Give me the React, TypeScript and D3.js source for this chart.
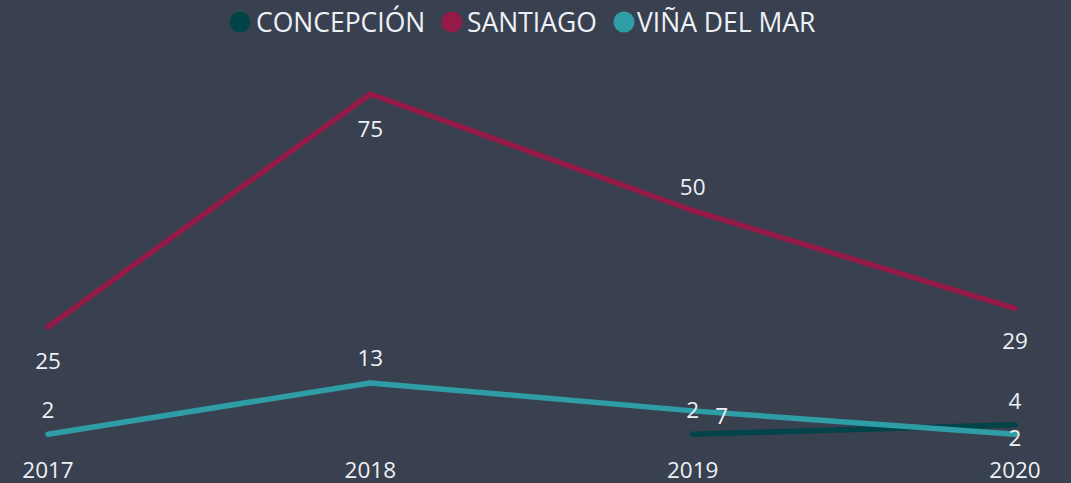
import React from "react";
import * as d3 from "d3";

const years = ["2017", "2018", "2019", "2020"];
const seriesNames = ["CONCEPCIÓN", "SANTIAGO", "VIÑA DEL MAR"];
const concepcion: (number | null)[] = [null, null, 2, 4];
const santiago: (number | null)[] = [25, 75, 50, 29];
const vina: (number | null)[] = [2, 13, 7, 2];
const colors = ["#00444a", "#941a48", "#2f9da6"];

// label offsets (dx, dy) per series per point
const labelOffsets: [number, number][][] = [
  [[0, 0], [0, 0], [0, -25], [0, -24]],
  [[0, 33], [0, 34], [0, -24], [0, 32]],
  [[0, -25], [0, -25], [29, 5], [0, 3]],
];

const W = 1071;
const H = 483;

export default function App() {
  const data = [concepcion, santiago, vina];
  const x = d3.scalePoint<string>().domain(years).range([48, 1015]);
  const y = d3.scaleLinear().domain([0, 75]).range([443.5, 94]);
  const line = d3
    .line<number | null>()
    .defined((d) => d !== null)
    .x((_, i) => x(years[i]) as number)
    .y((d) => y(d as number));

  const font = "'Segoe UI', 'Open Sans', sans-serif";
  const textColor = "#eef1f6";

  const legendFont = 26.5;
  const legendCircleX = [240, 452, 624];
  const legendTextX = [256, 467, 637];

  return (
    <svg width={W} height={H} style={{ position: "absolute", left: 0, top: 0, background: "#394050" }}>
      <rect x={0} y={0} width={W} height={H} fill="#394050" />
      {seriesNames.map((n, i) => (
        <g key={n}>
          <circle cx={legendCircleX[i]} cy={22} r={10.5} fill={colors[i]} />
          <text x={legendTextX[i]} y={22} dominantBaseline="central" fontFamily={font} fontSize={legendFont} fill={textColor}>
            {n}
          </text>
        </g>
      ))}
      {data.map((s, si) => (
        <path
          key={si}
          d={line(s) || ""}
          fill="none"
          stroke={colors[si]}
          strokeWidth={5.5}
          strokeLinecap="round"
          strokeLinejoin="round"
        />
      ))}
      {data.map((s, si) =>
        s.map((v, i) =>
          v === null ? null : (
            <text
              key={`${si}-${i}`}
              x={(x(years[i]) as number) + labelOffsets[si][i][0]}
              y={y(v) + labelOffsets[si][i][1]}
              textAnchor="middle"
              dominantBaseline="central"
              fontFamily={font}
              fontSize={22.5}
              fill={textColor}
            >
              {v}
            </text>
          )
        )
      )}
      {years.map((yr) => (
        <text
          key={yr}
          x={x(yr) as number}
          y={469}
          textAnchor="middle"
          dominantBaseline="central"
          fontFamily={font}
          fontSize={22.5}
          fill={textColor}
        >
          {yr}
        </text>
      ))}
    </svg>
  );
}
